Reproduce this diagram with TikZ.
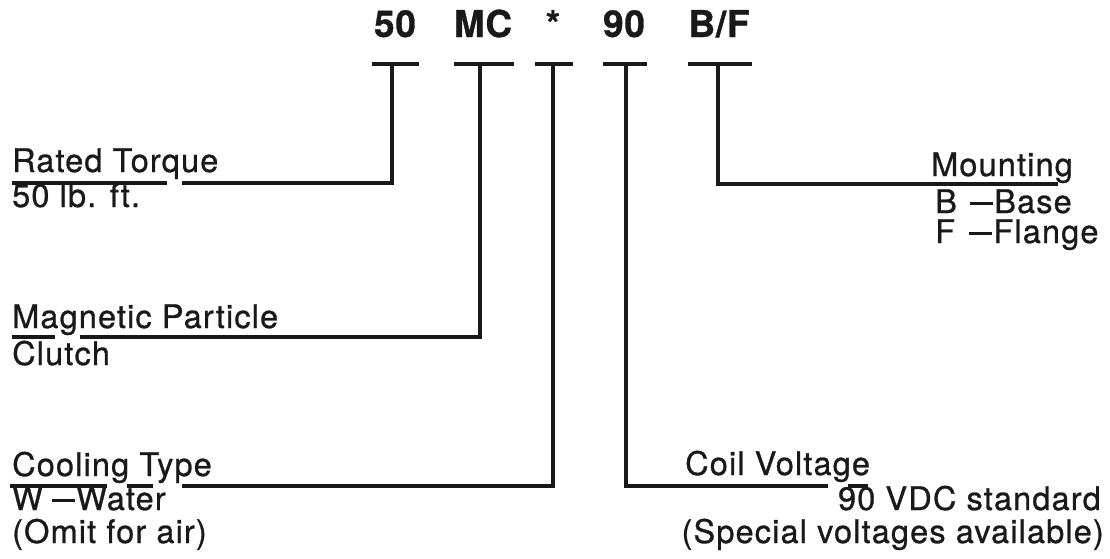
\documentclass[tikz,border=0pt]{standalone}
\usepackage{fontspec}
\setmainfont{TeX Gyre Heros}[LetterSpace=3.5,FakeBold=0.8]
\newfontfamily\hdfont{TeX Gyre Heros}[LetterSpace=2,FakeBold=0.8]
\newcommand{\mydash}{\rule[0.26em]{0.72em}{0.08em}}
\begin{document}
\begin{tikzpicture}[x=1pt,y=-1pt,
  lbl/.style={inner sep=0pt, text=black!90, font=\fontsize{32.5}{32.5}\selectfont},
  hd/.style={inner sep=0pt, anchor=base, text=black!90, font=\hdfont\fontsize{37}{37}\selectfont\bfseries},
  conn/.style={line width=4.5pt, line cap=butt, line join=miter, draw=black!90},
]
\useasboundingbox[fill=white] (0,0) rectangle (1110,558);

% header codes
\node[hd] (h50) at (395,37) {50};
\node[hd] (hmc) at (483,37) {MC};
\node[hd] (hst) at (553,37) {*};
\node[hd] (h90) at (624,37) {90};
\node[hd] (hbf) at (719,37) {B/F};

% T bars
\coordinate (b1l) at (372,64); \coordinate (b1r) at (419,64); \coordinate (s1) at (392,64);
\coordinate (b2l) at (454,64); \coordinate (b2r) at (514,64); \coordinate (s2) at (480,64);
\coordinate (b3l) at (535,64); \coordinate (b3r) at (573,64); \coordinate (s3) at (553,64);
\coordinate (b4l) at (603,64); \coordinate (b4r) at (647,64); \coordinate (s4) at (626,64);
\coordinate (b5l) at (688,64); \coordinate (b5r) at (752,64); \coordinate (s5) at (718,64);
\foreach \i in {1,...,5} {\draw[conn] (b\i l) -- (b\i r);}

% labels
\node[lbl, anchor=base west] (rt)  at (12,172) {Rated Torque};
\node[lbl, anchor=base west] (rt2) at (12,207) {50 lb. ft.};
\node[lbl, anchor=base west] (mp)  at (12,328) {Magnetic Particle};
\node[lbl, anchor=base west] (mp2) at (12,365) {Clutch};
\node[lbl, anchor=base west] (ct)  at (12,476) {Cooling Type};
\node[lbl, anchor=base west] (ct2) at (12,510) {W\kern9pt\mydash\kern1pt Water};
\node[lbl, anchor=base west] (ct3) at (12,543) {(Omit for air)};

\node[lbl, anchor=base west] (cv)  at (685,475) {Coil Voltage};
\node[lbl, anchor=base east] (cv2) at (1101,510) {90 VDC standard};
\node[lbl, anchor=base east] (cv3) at (1104,543) {(Special voltages available)};
\node[lbl, anchor=base east] (mt)  at (1073,176) {Mounting};
\node[lbl, anchor=base west] (mt2) at (935,213) {B\kern13pt\mydash\kern1pt Base};
\node[lbl, anchor=base west] (mt3) at (935,243) {F\kern14pt\mydash\kern1pt Flange};

% connector end points
\coordinate (e1a) at (182,183); \coordinate (e1b) at (167,183); \coordinate (e1c) at (12,183);
\coordinate (e2a) at (80,337);  \coordinate (e2b) at (55,337);  \coordinate (e2c) at (12,337);
\coordinate (e3a) at (182,486); \coordinate (e3b) at (153,486); \coordinate (e3c) at (127,486);
\coordinate (e3d) at (107,486); \coordinate (e3e) at (10,486);
\coordinate (e4a) at (828,486); \coordinate (e4b) at (848,486); \coordinate (e4c) at (868,486);
\coordinate (e5a) at (1058,184);

% connectors
\draw[conn] (s1) |- (e1a);
\draw[conn] (e1b) -- (e1c);
\draw[conn] (s2) |- (e2a);
\draw[conn] (e2b) -- (e2c);
\draw[conn] (s3) |- (e3a);
\draw[conn] (e3b) -- (e3c);
\draw[conn] (e3d) -- (e3e);
\draw[conn] (s4) |- (e4a);
\draw[conn] (e4b) -- (e4c);
\draw[conn] (s5) |- (e5a);
\end{tikzpicture}
\end{document}
